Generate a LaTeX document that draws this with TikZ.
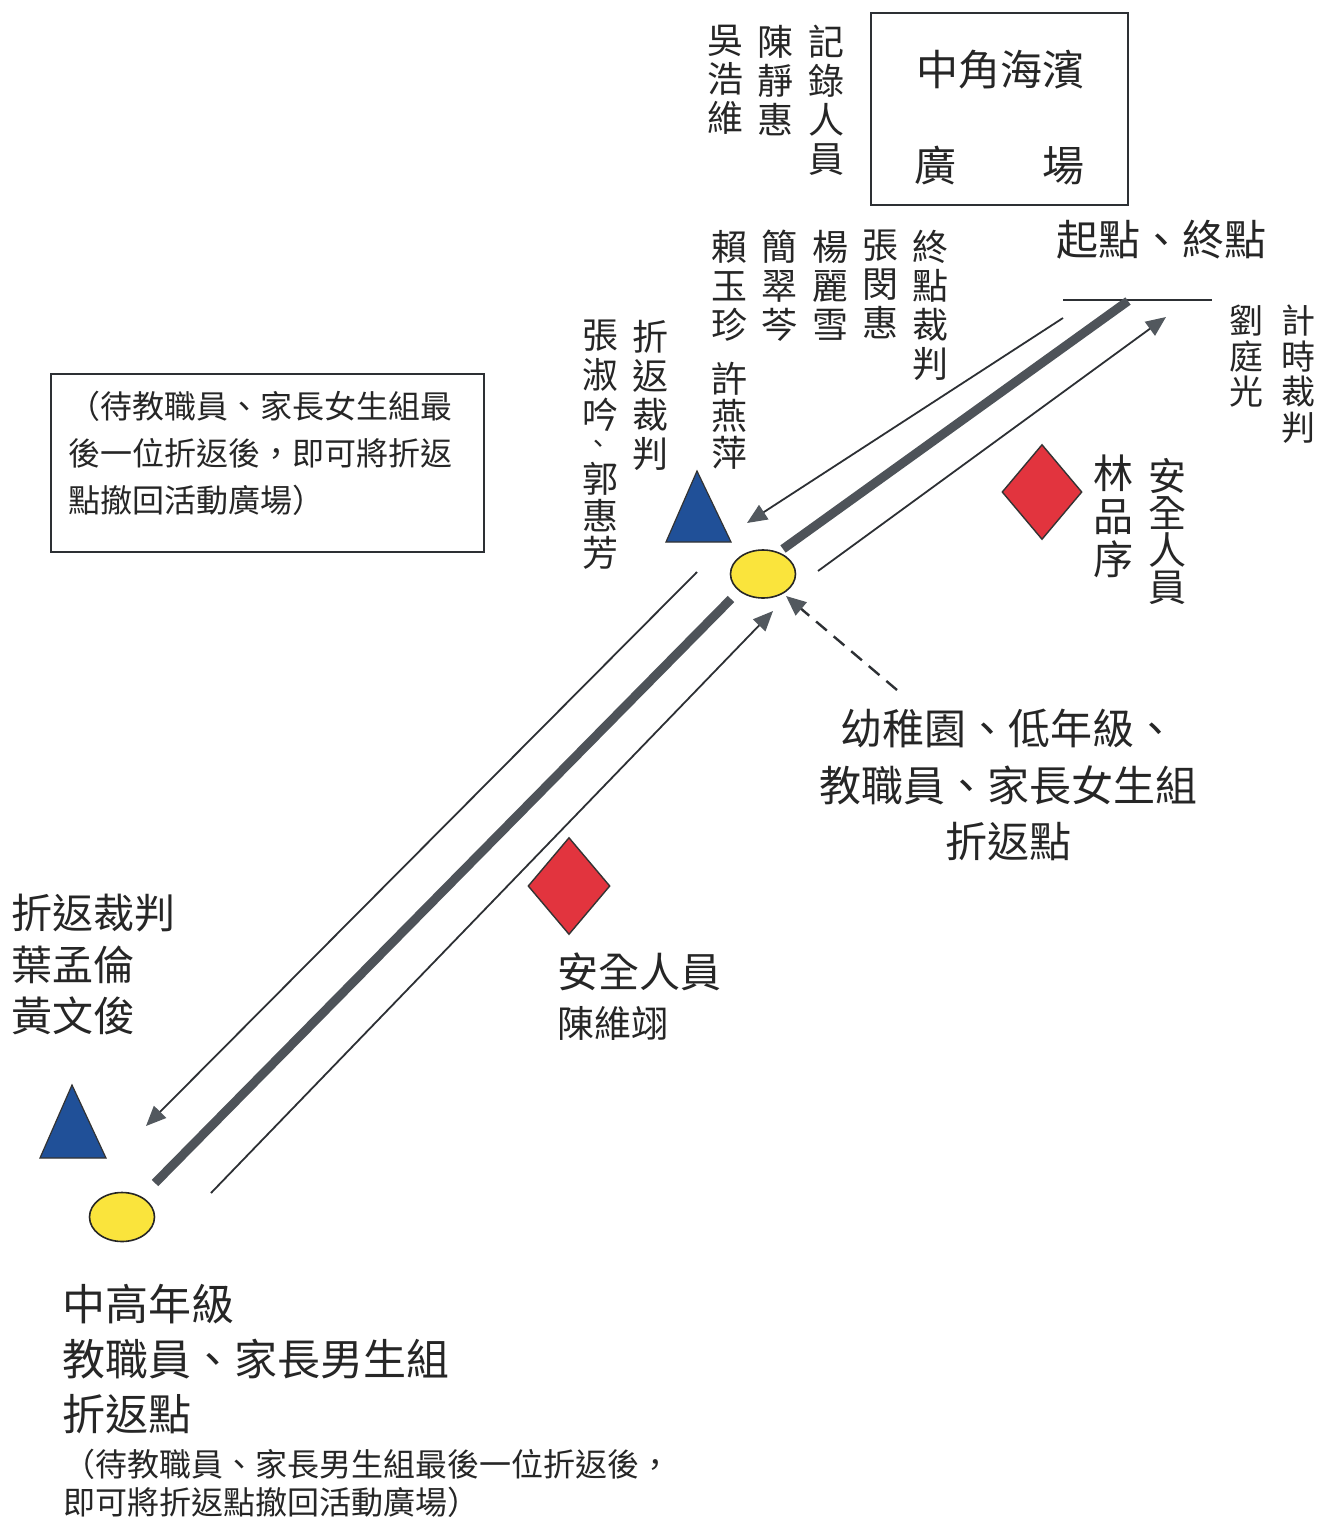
\documentclass[tikz,border=0pt]{standalone}
\usepackage{fontspec}
\newfontfamily\cjk{Noto Sans CJK TC}
\usetikzlibrary{arrows.meta,shapes.geometric}
\definecolor{ink}{RGB}{38,38,38}
\definecolor{road}{RGB}{78,83,89}
\definecolor{lineg}{RGB}{45,48,52}
\definecolor{headg}{RGB}{82,88,94}
\definecolor{tblue}{RGB}{32,80,152}
\definecolor{tyellow}{RGB}{250,228,60}
\definecolor{tred}{RGB}{226,52,62}
\begin{document}
\begin{tikzpicture}[x=1pt,y=-1pt,
  vcol/.style={font=\cjk\fontsize{36}{39}\selectfont, align=center, inner sep=0pt, anchor=north, text=ink},
  vcolS/.style={font=\cjk\fontsize{34}{35.5}\selectfont, align=center, inner sep=0pt, anchor=north, text=ink},
  htext/.style={font=\cjk\fontsize{42}{56.5}\selectfont, inner sep=0pt, text=ink},
  boxst/.style={draw=lineg, line width=2pt, inner sep=0pt},
  roadst/.style={draw=road, line width=9pt, line cap=butt},
  arr/.style={draw=lineg, line width=1.8pt, -{Triangle[length=20pt,width=17pt,fill=headg,color=headg]}},
  dasharr/.style={draw=lineg, line width=2.4pt, dash pattern=on 14pt off 9pt, -{Triangle[length=20pt,width=17pt,fill=headg,color=headg]}},
  turnpt/.style={shape=ellipse, draw=black!85, line width=1.6pt, fill=tyellow, minimum width=65pt, minimum height=48pt, inner sep=0pt},
  guard/.style={shape=diamond, draw=black!80, line width=1.4pt, fill=tred, inner sep=0pt},
  judge/.style={draw=black!80, line width=1.2pt, fill=tblue}
]
\fill[white] (0,0) rectangle (1319,1521);
\useasboundingbox (0,0) rectangle (1319,1521);

% ---- recorders
\node[vcol] (recT) at (826,25) {記\\錄\\人\\員};
\node[vcol] (recA) at (775,25) {陳\\靜\\惠};
\node[vcol] (recB) at (725,25) {吳\\浩\\維};

% ---- plaza box
\node[boxst, anchor=north west, minimum width=257pt, minimum height=192pt] (plaza) at (870,12) {};
\node[htext] (plazaA) at (1000,70) {中角海濱};
\node[htext] (plazaB) at (935,166) {廣};
\node[htext] (plazaC) at (1063,166) {場};

% ---- finish judges
\node[vcol] (finT) at (930,230) {終\\點\\裁\\判};
\node[vcol] (finA) at (880,230) {張\\閔\\惠};
\node[vcol] (finB) at (830,230) {楊\\麗\\雪};
\node[vcol] (finC) at (779,230) {簡\\翠\\芩};
\node[vcol] (finD) at (729,230) {賴\\玉\\珍};
\node[vcol, font=\cjk\fontsize{36}{37}\selectfont] (finE) at (729,362) {許\\燕\\萍};

% ---- turn judges (upper)
\node[vcol] (turnT) at (650,320) {折\\返\\裁\\判};
\node[vcol, font=\cjk\fontsize{36}{40}\selectfont] (turnA) at (600,320) {張\\淑\\吟};
\node[font=\cjk\fontsize{26}{26}\selectfont, inner sep=0pt, anchor=center, text=ink] (turnC) at (598,447) {、};
\node[vcol, font=\cjk\fontsize{36}{37}\selectfont] (turnB) at (600,462) {郭\\惠\\芳};

% ---- start / finish
\node[htext] (startlbl) at (1161,240) {起點、終點};
\coordinate (finishL) at (1063,300);
\coordinate (finishR) at (1212,300);
\draw[draw=lineg, line width=2pt] (finishL) -- (finishR);

% ---- timing judge
\node[vcolS] (timeT) at (1298,305) {計\\時\\裁\\判};
\node[vcolS] (timeA) at (1246,305) {劉\\庭\\光};

% ---- note box (upper left)
\node[boxst, anchor=north west, minimum width=433pt, minimum height=178pt] (noteBox) at (50,373) {};
\node[font=\cjk\fontsize{32}{47}\selectfont, align=left, inner sep=0pt, anchor=north west, text=ink] (noteTxt) at (68,391)
  {（待教職員、家長女生組最\\後一位折返後，即可將折返\\點撤回活動廣場）};

% ---- safety (right)
\node[guard, minimum width=80pt, minimum height=95pt] (guardR) at (1042,492) {};
\node[vcol, font=\cjk\fontsize{38}{37}\selectfont] (safeRT) at (1167,458) {安\\全\\人\\員};
\node[vcol, font=\cjk\fontsize{40}{43}\selectfont] (safeRA) at (1113,455) {林\\品\\序};

% ---- upper turn point
\fill[judge] (697,471) -- (731,542) -- (666,542) -- cycle;
\coordinate (judgeTop) at (697,510);
\node[turnpt] (turnTop) at (763,574) {};

% ---- lower turn point
\fill[judge] (72,1085) -- (106,1158) -- (40,1158) -- cycle;
\coordinate (judgeBot) at (72,1130);
\node[turnpt, minimum height=49pt] (turnBot) at (122,1217) {};

% ---- road (thick)
\coordinate (roadA) at (1128,301);
\coordinate (roadB) at (783,549);
\coordinate (roadC) at (731,599);
\coordinate (roadD) at (155,1183);
\draw[roadst] (roadA) -- (roadB);
\draw[roadst] (roadC) -- (roadD);

% ---- running arrows
\coordinate (aS) at (1063,318);
\coordinate (aE) at (747,523);
\draw[arr] (aS) -- (aE);
\coordinate (bS) at (818,571);
\coordinate (bE) at (1166,317);
\draw[arr] (bS) -- (bE);
\coordinate (cS) at (697,572);
\coordinate (cE) at (146,1126);
\draw[arr] (cS) -- (cE);
\coordinate (dS) at (211,1193);
\coordinate (dE) at (773,611);
\draw[arr] (dS) -- (dE);

% ---- label of upper turn point with dashed arrow
\node[htext, align=center, anchor=north] (kinder) at (1008,709)
  {幼稚園、低年級、\\教職員、家長女生組\\折返點};
\coordinate (dashS) at (897,690);
\coordinate (dashE) at (786,596);
\draw[dasharr] (dashS) -- (dashE);

% ---- safety (middle)
\node[guard, minimum width=82pt, minimum height=97pt] (guardM) at (569,886) {};
\node[font=\cjk\fontsize{41}{41}\selectfont, inner sep=0pt, anchor=west, text=ink] (safeMT) at (557,972) {安全人員};
\node[font=\cjk\fontsize{37}{37}\selectfont, inner sep=0pt, anchor=west, text=ink] (safeMA) at (557,1023) {陳維翊};

% ---- lower turn judges
\node[font=\cjk\fontsize{41}{51.5}\selectfont, align=left, inner sep=0pt, anchor=north west, text=ink] (turnLow) at (11,894)
  {折返裁判\\葉孟倫\\黃文俊};

% ---- lower turn point label
\node[font=\cjk\fontsize{43}{55}\selectfont, align=left, inner sep=0pt, anchor=north west, text=ink] (botA) at (62,1284)
  {中高年級\\教職員、家長男生組\\折返點};
\node[font=\cjk\fontsize{32}{38}\selectfont, align=left, inner sep=0pt, anchor=north west, text=ink] (botB) at (63,1449)
  {（待教職員、家長男生組最後一位折返後，\\即可將折返點撤回活動廣場）};
\end{tikzpicture}
\end{document}
